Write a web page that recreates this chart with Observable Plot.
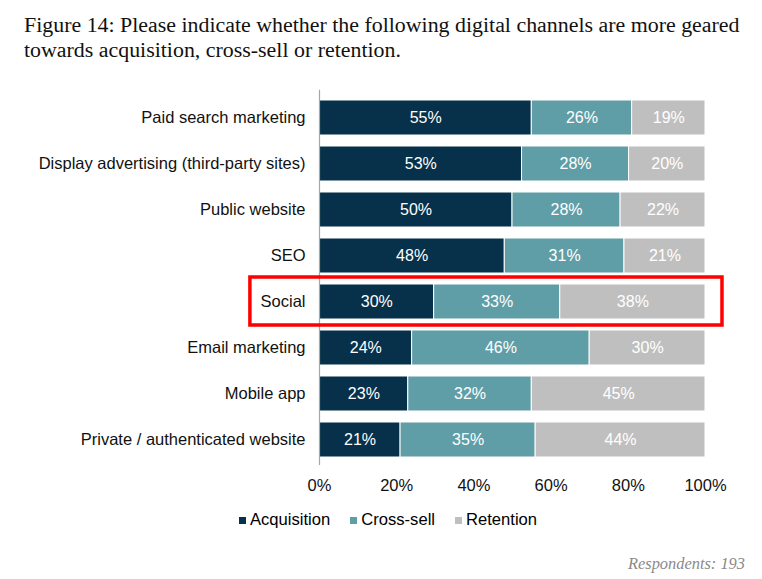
<!DOCTYPE html>
<html>
<head>
<meta charset="utf-8">
<script src="https://cdn.jsdelivr.net/npm/d3@7"></script>
<script src="https://cdn.jsdelivr.net/npm/@observablehq/plot@0.6"></script>
<style>
  html, body { margin: 0; padding: 0; background: #fff; }
  #wrap { position: relative; width: 762px; height: 579px; overflow: hidden; }
  #title { position: absolute; left: 24px; top: 12px; width: 736px; font-family: "Liberation Serif", serif; font-size: 21.9px; line-height: 25px; color: #111; }
  #chart { position: absolute; left: 0; top: 70px; }
  #legend { position: absolute; left: 239px; top: 510px; font-family: "Liberation Sans", Arial, sans-serif; font-size: 16.6px; color: #000; display: flex; gap: 0; }
  #legend .item { display: flex; align-items: center; margin-right: 20px; }
  #legend .sw { width: 7px; height: 7px; margin-right: 4px; display: inline-block; }
  #caption { position: absolute; right: 17px; top: 554px; font-family: "Liberation Serif", serif; font-style: italic; font-size: 16.4px; color: #8a8a8a; }
</style>
</head>
<body>
<div id="wrap">
  <div id="title">Figure 14: Please indicate whether the following digital channels are more geared towards acquisition, cross-sell or retention.</div>
  <div id="chart"></div>
  <div id="legend"></div>
  <div id="caption">Respondents: 193</div>
</div>
<script>
const channels = [
  "Paid search marketing",
  "Display advertising (third-party sites)",
  "Public website",
  "SEO",
  "Social",
  "Email marketing",
  "Mobile app",
  "Private / authenticated website"
];
const seriesNames = ["Acquisition", "Cross-sell", "Retention"];
const acquisition = [55, 53, 50, 48, 30, 24, 23, 21];
const crossSell   = [26, 28, 28, 31, 33, 46, 32, 35];
const retention   = [19, 20, 22, 21, 38, 30, 45, 44];
const seriesColors = ["#07314a", "#5f9ea7", "#bfbfbf"];
const xTicks = [0, 0.2, 0.4, 0.6, 0.8, 1];
const highlighted = "Social";

const seriesValues = [acquisition, crossSell, retention];
const data = [];
channels.forEach((c, i) => {
  seriesNames.forEach((s, j) => {
    data.push({channel: c, series: s, value: seriesValues[j][i]});
  });
});

const stackOpts = (extra) => Plot.stackX({
  x: "value", y: "channel", z: "series", offset: "normalize", ...extra
});

const plot = Plot.plot({
  width: 762,
  height: 440,
  marginLeft: 319,
  marginRight: 57,
  marginTop: 15.75,
  marginBottom: 38.1,
  style: { fontFamily: "'Liberation Sans', Arial, sans-serif", fontSize: "16.5px", color: "#111", overflow: "visible" },
  x: { domain: [0, 1], ticks: xTicks, tickFormat: d => Math.round(d * 100) + "%", label: null, tickSize: 0, tickPadding: 6.5 },
  y: { domain: channels, label: null, padding: 0.24, tickSize: 0, tickPadding: 14 },
  color: { domain: seriesNames, range: seriesColors },
  marks: [
    Plot.barX(data, stackOpts({
      fill: "series", stroke: "white", strokeWidth: 1,
      style: "filter: drop-shadow(1px 2px 1.5px rgba(0,0,0,0.25))"
    })),
    Plot.textX(data, stackOpts({
      text: d => d.value + "%", fill: "white", fontSize: 16
    })),
    Plot.ruleX([0], { stroke: "#a6a6a6", strokeWidth: 1.2, insetTop: 4, insetBottom: 7 }),
    Plot.rect([highlighted], {
      y: d => d, x1: () => -0.179, x2: () => 1.044,
      insetTop: -7, insetBottom: -6,
      fill: "none", stroke: "#ff0000", strokeWidth: 3.5
    })
  ]
});
plot.querySelectorAll("[aria-label='y-axis tick label'] text, [aria-label='x-axis tick label'] text").forEach(t => t.setAttribute("fill", "#111"));
document.getElementById("chart").appendChild(plot);

const legend = document.getElementById("legend");
seriesNames.forEach((s, j) => {
  const item = document.createElement("span");
  item.className = "item";
  const sw = document.createElement("span");
  sw.className = "sw";
  sw.style.background = seriesColors[j];
  item.appendChild(sw);
  item.appendChild(document.createTextNode(s));
  legend.appendChild(item);
});
</script>
</body>
</html>
